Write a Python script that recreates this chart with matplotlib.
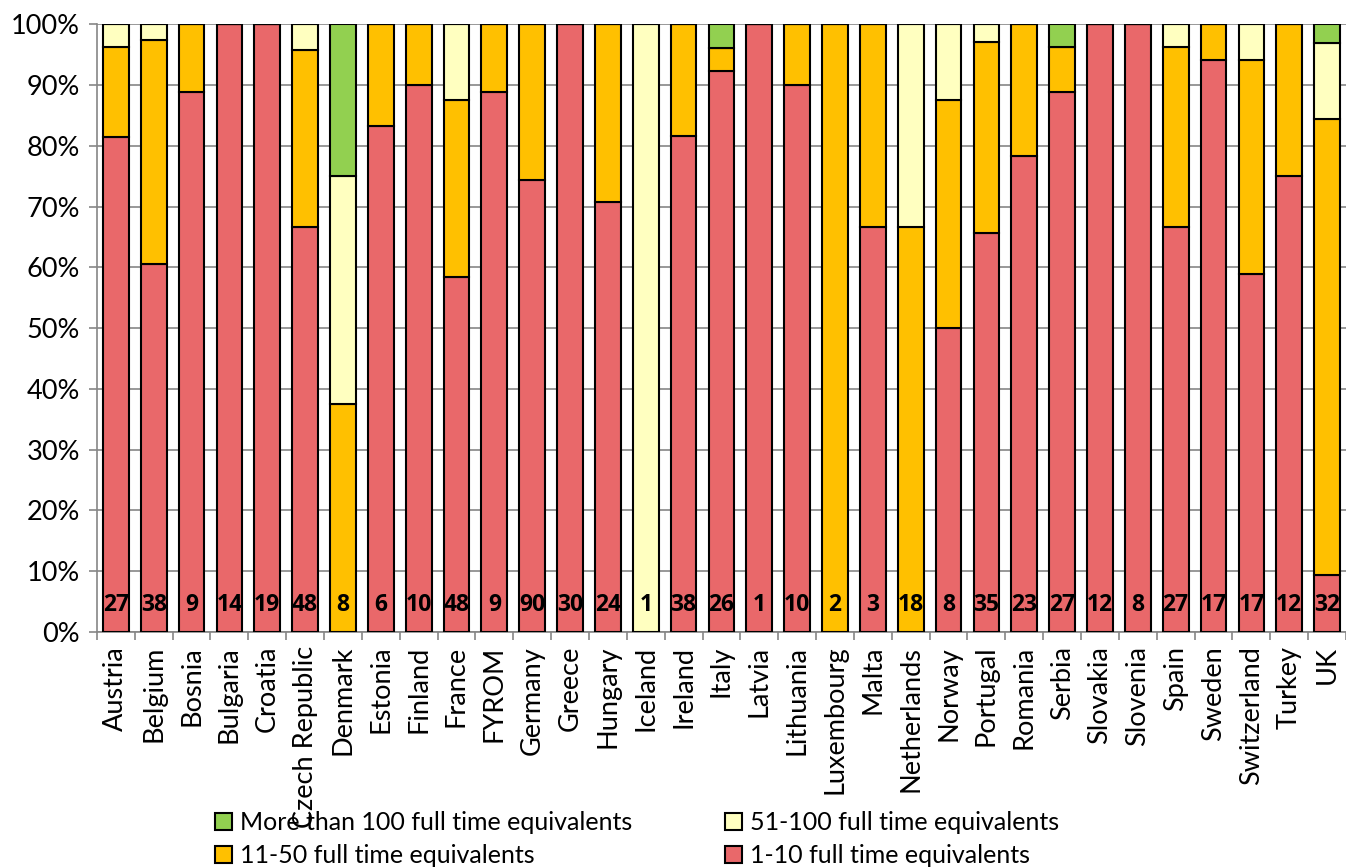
import matplotlib
matplotlib.use("Agg")
import matplotlib.pyplot as plt
import numpy as np

countries = ["Austria", "Belgium", "Bosnia", "Bulgaria", "Croatia", "Czech Republic",
             "Denmark", "Estonia", "Finland", "France", "FYROM", "Germany", "Greece",
             "Hungary", "Iceland", "Ireland", "Italy", "Latvia", "Lithuania", "Luxembourg",
             "Malta", "Netherlands", "Norway", "Portugal", "Romania", "Serbia", "Slovakia",
             "Slovenia", "Spain", "Sweden", "Switzerland", "Turkey", "UK"]
# counts of organisations per size class
n_1_10 = [22, 23, 8, 14, 19, 32, 0, 5, 9, 28, 8, 67, 30, 17, 0, 31, 24, 1, 9, 0,
          2, 0, 4, 23, 18, 24, 12, 8, 18, 16, 10, 9, 3]
n_11_50 = [4, 14, 1, 0, 0, 14, 3, 1, 1, 14, 1, 23, 0, 7, 0, 7, 1, 0, 1, 2,
           1, 12, 3, 11, 5, 2, 0, 0, 8, 1, 6, 3, 24]
n_51_100 = [1, 1, 0, 0, 0, 2, 3, 0, 0, 6, 0, 0, 0, 0, 1, 0, 0, 0, 0, 0,
            0, 6, 1, 1, 0, 0, 0, 0, 1, 0, 1, 0, 4]
n_100p = [0, 0, 0, 0, 0, 0, 2, 0, 0, 0, 0, 0, 0, 0, 0, 0, 1, 0, 0, 0,
          0, 0, 0, 0, 0, 1, 0, 0, 0, 0, 0, 0, 1]
totals = [27, 38, 9, 14, 19, 48, 8, 6, 10, 48, 9, 90, 30, 24, 1, 38, 26, 1, 10, 2,
          3, 18, 8, 35, 23, 27, 12, 8, 27, 17, 17, 12, 32]

plt.rcParams['font.family'] = ['Lato', 'DejaVu Sans']

fig = plt.figure(figsize=(13.46, 8.68), dpi=100)
ax = fig.add_axes([0.072, 0.272, 0.928, 0.700])

x = np.arange(len(countries))
tot = np.array(totals, dtype=float)
series = [
    (np.array(n_1_10) / tot * 100, "#E9686A", "1-10 full time equivalents"),
    (np.array(n_11_50) / tot * 100, "#FFC000", "11-50 full time equivalents"),
    (np.array(n_51_100) / tot * 100, "#FFFFC0", "51-100 full time equivalents"),
    (np.array(n_100p) / tot * 100, "#92D050", "More than 100 full time equivalents"),
]
bottom = np.zeros(len(countries))
handles = {}
for vals, col, lab in series:
    b = ax.bar(x, vals, 0.68, bottom=bottom, color=col, edgecolor="black",
               linewidth=1.5, label=lab, zorder=3)
    handles[lab] = b
    bottom += vals

for xi, t in zip(x, totals):
    ax.text(xi, 4.4, str(t), ha="center", va="center", fontsize=16.5,
            fontweight="bold", family=["Open Sans", "DejaVu Sans"],
            color="black", zorder=4)

ax.set_xlim(-0.5, len(countries) - 0.5)
ax.set_ylim(0, 100)
ax.set_yticks(np.arange(0, 101, 10))
ax.set_yticklabels([f"{v}%" for v in range(0, 101, 10)], fontsize=19.5)
ax.set_xticks(x)
ax.set_xticklabels(countries, rotation=90, fontsize=19.5)
ax.set_xticks(np.arange(-0.5, len(countries), 1), minor=True)
ax.tick_params(axis="x", which="major", length=0, pad=10)
ax.tick_params(axis="x", which="minor", length=6, color="#868686", width=1.2)
ax.tick_params(axis="y", length=6, color="#868686", width=1.2, pad=6)
ax.yaxis.grid(True, color="#868686", linewidth=1.2, zorder=0)
ax.set_axisbelow(True)
for s in ["top", "right"]:
    ax.spines[s].set_visible(False)
for s in ["left", "bottom"]:
    ax.spines[s].set_color("#868686")
    ax.spines[s].set_linewidth(1.2)

order = ["More than 100 full time equivalents", "11-50 full time equivalents",
         "51-100 full time equivalents", "1-10 full time equivalents"]
fig.legend([handles[o] for o in order], order, ncol=2, loc="lower left",
           bbox_to_anchor=(0.143, -0.025), frameon=False, fontsize=18,
           handlelength=0.7, handleheight=0.7, handletextpad=0.3,
           columnspacing=3.7, labelspacing=0.4)

fig.savefig("out.png", dpi=100)
